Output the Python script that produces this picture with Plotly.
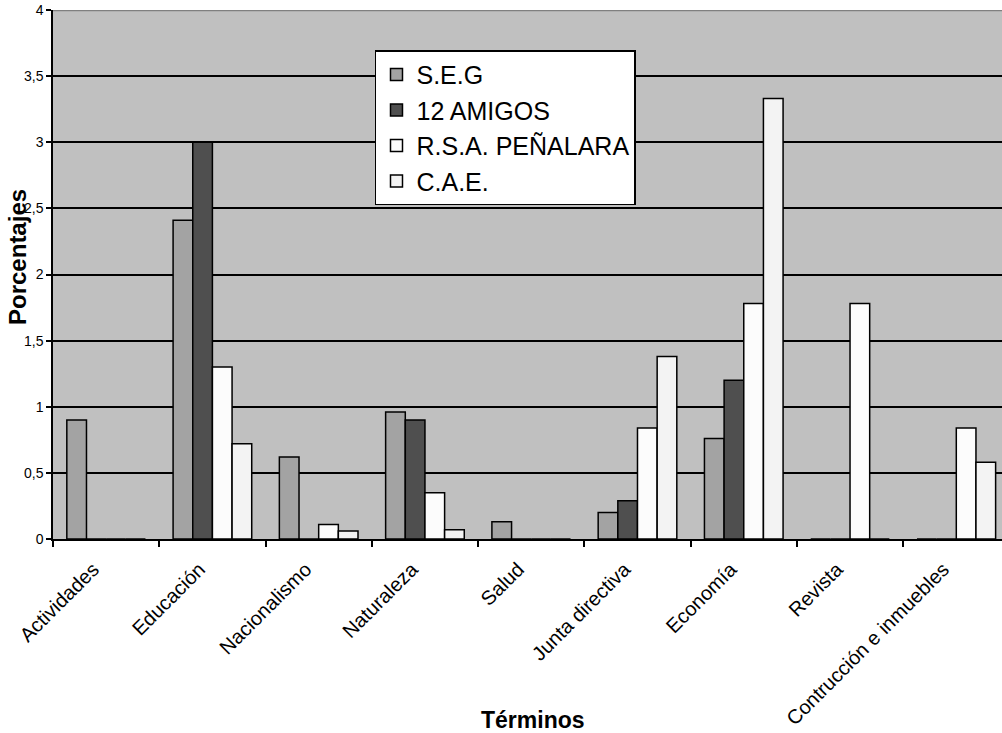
import plotly.graph_objects as go

# Categories and percentages per association
terminos = ["Actividades", "Educación", "Nacionalismo", "Naturaleza", "Salud",
            "Junta directiva", "Economía", "Revista", "Contrucción e inmuebles"]

seg = [0.90, 2.41, 0.62, 0.96, 0.13, 0.20, 0.76, 0.0, 0.0]
doce_amigos = [0.0, 3.00, 0.0, 0.90, 0.0, 0.29, 1.20, 0.0, 0.0]
penalara = [0.0, 1.30, 0.11, 0.35, 0.0, 0.84, 1.78, 1.78, 0.84]
cae = [0.0, 0.72, 0.06, 0.07, 0.0, 1.38, 3.33, 0.0, 0.58]

series_names = ["S.E.G", "12 AMIGOS", "R.S.A. PEÑALARA", "C.A.E."]
series_values = [seg, doce_amigos, penalara, cae]
series_colors = ["#A3A3A3", "#4F4F4F", "#FCFCFC", "#F3F3F3"]

y_ticks = [0, 0.5, 1, 1.5, 2, 2.5, 3, 3.5, 4]

FONT = "Arial, Liberation Sans, sans-serif"

fig = go.Figure()
for name, vals, col in zip(series_names, series_values, series_colors):
    fig.add_trace(go.Bar(
        x=terminos, y=vals, name=name,
        marker=dict(color=col, line=dict(color="#000000", width=1.5)),
    ))

fig.update_layout(
    width=1002, height=733, autosize=False,
    margin=dict(l=53, r=0, t=10, b=194, pad=0),
    paper_bgcolor="#FFFFFF",
    plot_bgcolor="#C0C0C0",
    barmode="group",
    bargap=0.26,
    bargroupgap=0.0,
    separators=",.",
    font=dict(family=FONT, color="#000000"),
    legend=dict(
        x=0.3393, y=0.924, xanchor="left", yanchor="top",
        bgcolor="#FFFFFF", bordercolor="#000000", borderwidth=1.5,
        font=dict(family=FONT, size=25, color="#000000"),
        traceorder="normal",
        itemclick=False, itemdoubleclick=False,
    ),
    showlegend=True,
)

fig.update_xaxes(
    type="category",
    range=[-0.5, 8.43],
    automargin=False,
    showline=True, linecolor="#000000", linewidth=1.5,
    ticks="outside", ticklen=6, tickwidth=1.5, tickcolor="#000000",
    tickson="boundaries",
    tickangle=-45,
    tickfont=dict(family=FONT, size=20, color="#000000"),
    ticklabelshift=-13, ticklabelstandoff=9,
    showgrid=False, zeroline=False,
)

fig.update_yaxes(
    range=[0, 4],
    tickvals=y_ticks,
    automargin=False,
    showline=True, linecolor="#000000", linewidth=1.5,
    ticks="outside", ticklen=5, tickwidth=1.5, tickcolor="#000000",
    tickfont=dict(family=FONT, size=14, color="#000000"),
    showgrid=True, gridcolor="#000000", gridwidth=1.5,
    zeroline=False,
)

# Plot-area top border in grey
fig.add_shape(type="line", xref="paper", yref="y", x0=0, x1=1, y0=4, y1=4,
              line=dict(color="#808080", width=2.5), layer="above")

# Axis titles
fig.add_annotation(text="<b>Porcentajes</b>", xref="paper", yref="paper",
                   x=-0.038, y=0.533, xanchor="center", yanchor="middle",
                   textangle=-90, showarrow=False,
                   font=dict(family=FONT, size=24, color="#000000"))
fig.add_annotation(text="<b>Términos</b>", xref="paper", yref="paper",
                   x=0.5055, y=-0.3415, xanchor="center", yanchor="middle",
                   showarrow=False,
                   font=dict(family=FONT, size=23, color="#000000"))

fig.write_html("out.html")
